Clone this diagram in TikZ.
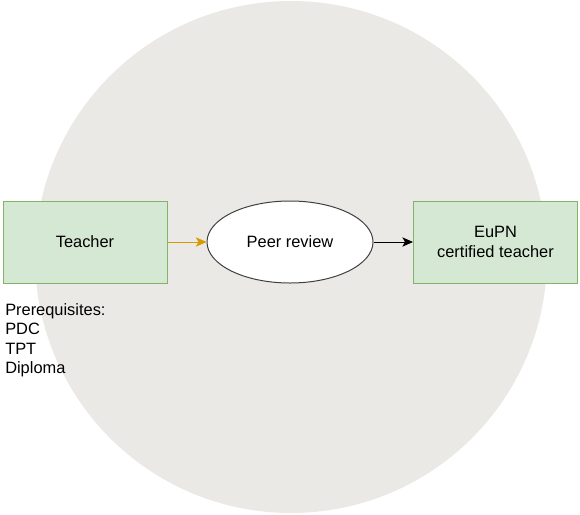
\documentclass[tikz,border=0pt]{standalone}
\usepackage{fontspec}
\setmainfont{Liberation Sans}
\usetikzlibrary{arrows.meta,shapes.geometric}
\definecolor{bgcirc}{HTML}{EBE9E5}
\definecolor{gfill}{HTML}{D5E8D4}
\definecolor{gline}{HTML}{82B366}
\definecolor{yarrow}{HTML}{D79B00}
\tikzset{
  greenbox/.style={draw=gline, fill=gfill, line width=0.75pt, minimum width=123pt, minimum height=61.5pt, inner sep=0pt, align=center, font=\fontsize{12.3}{14.6}\selectfont},
  oval/.style={draw=black!75, fill=white, ellipse, line width=0.75pt, minimum width=124.5pt, minimum height=61.5pt, inner sep=0pt, font=\fontsize{12.3}{14.6}\selectfont},
  conn/.style={line width=0.75pt, -{Triangle[length=8pt,width=7pt,inset=2pt]}}
}
\begin{document}
\begin{tikzpicture}[x=0.75pt,y=-0.75pt]
\useasboundingbox (0,0) rectangle (580,514);
\fill[bgcirc] (291,257) circle[radius=256*0.75pt];
\node[greenbox] (teacher) at (85,242) {Teacher};
\node[oval] (peer) at (290,242) {Peer review};
\node[greenbox] (eupn) at (495.5,242) {EuPN\\certified teacher};
\draw[conn, draw=yarrow, fill=yarrow] (teacher) -- (peer);
\draw[conn, draw=black, fill=black] (peer) -- (eupn);
\node[anchor=north west, align=left, inner sep=0pt, font=\fontsize{12.3}{14.6}\selectfont] (prereq) at (5,303) {Prerequisites:\\PDC\\TPT\\Diploma};
\end{tikzpicture}
\end{document}
